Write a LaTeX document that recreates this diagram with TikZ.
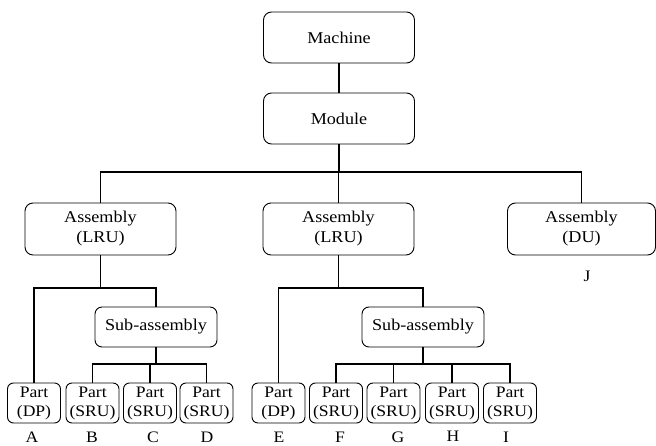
\documentclass[tikz,border=0pt]{standalone}
\usepackage{fontspec}
\setmainfont[FakeStretch=1.1]{Liberation Serif}
\begin{document}
\begin{tikzpicture}[x=1pt,y=-1pt,
  bigbox/.style={draw,line width=0.9pt,rounded corners=8pt,minimum width=151pt,minimum height=51pt,align=center,inner sep=0pt,font=\fontsize{16.5}{20}\selectfont},
  subbox/.style={draw,line width=0.9pt,rounded corners=7pt,minimum width=122pt,minimum height=40pt,align=center,inner sep=0pt,font=\fontsize{16.5}{20}\selectfont},
  partbox/.style={draw,line width=0.9pt,rounded corners=6pt,minimum width=53pt,minimum height=40pt,align=center,inner sep=0pt,font=\fontsize{16}{19}\selectfont},
  lbl/.style={font=\fontsize{16}{18}\selectfont,inner sep=0pt},
  conn/.style={line width=1.6pt}]
\useasboundingbox (0,0) rectangle (656,446);
\node[bigbox] (machine) at (339,37.5) {Machine};
\node[bigbox] (module) at (339,118.5) {Module};
\node[bigbox,minimum height=52pt] (lru1) at (100.5,229) {Assembly\\(LRU)};
\node[bigbox,minimum height=52pt] (lru2) at (338.5,229) {Assembly\\(LRU)};
\node[bigbox,minimum height=52pt,minimum width=148pt] (du) at (581.5,229) {Assembly\\(DU)};
\node[lbl] (J) at (587,276) {J};
\node[subbox] (sub1) at (156,327) {Sub-assembly};
\node[subbox] (sub2) at (423,327) {Sub-assembly};
\node[partbox] (A) at (34,403) {Part\\(DP)};
\node[partbox] (B) at (92.5,403) {Part\\(SRU)};
\node[partbox] (C) at (150,403) {Part\\(SRU)};
\node[partbox] (D) at (206.5,403) {Part\\(SRU)};
\node[partbox] (E) at (278.5,403) {Part\\(DP)};
\node[partbox] (F) at (336,403) {Part\\(SRU)};
\node[partbox] (G) at (393.5,403) {Part\\(SRU)};
\node[partbox] (H) at (452,403) {Part\\(SRU)};
\node[partbox] (I) at (510,403) {Part\\(SRU)};
\node[lbl] (lA) at (32,437.5) {A};
\node[lbl] (lB) at (92,437.5) {B};
\node[lbl] (lC) at (153,437.5) {C};
\node[lbl] (lD) at (207,437.5) {D};
\node[lbl] (lE) at (279,437.5) {E};
\node[lbl] (lF) at (340,437.5) {F};
\node[lbl] (lG) at (398,437.5) {G};
\node[lbl] (lH) at (453,436) {H};
\node[lbl] (lI) at (506,437.5) {I};
\coordinate (bar0) at (0,172);
\coordinate (bar1) at (0,288);
\coordinate (bar2) at (0,364);
% top
\draw[conn] (machine.south) -- (module.north);
\draw[conn] (module.south) -- (module.south |- bar0);
\draw[conn] (lru1.north) |- (du.north |- bar0) -- (du.north);
\draw[conn] (lru2.north) -- (lru2.north |- bar0);
% left subtree
\draw[conn] (lru1.south) -- (lru1.south |- bar1);
\draw[conn] (A.north) |- (sub1.north |- bar1) -- (sub1.north);
\draw[conn] (sub1.south) -- (sub1.south |- bar2);
\draw[conn] (B.north) |- (D.north |- bar2) -- (D.north);
\draw[conn] (C.north) -- (C.north |- bar2);
% middle subtree
\draw[conn] (lru2.south) -- (lru2.south |- bar1);
\draw[conn] (E.north) |- (sub2.north |- bar1) -- (sub2.north);
\draw[conn] (sub2.south) -- (sub2.south |- bar2);
\draw[conn] (F.north) |- (I.north |- bar2) -- (I.north);
\draw[conn] (G.north) -- (G.north |- bar2);
\draw[conn] (H.north) -- (H.north |- bar2);
\end{tikzpicture}
\end{document}
